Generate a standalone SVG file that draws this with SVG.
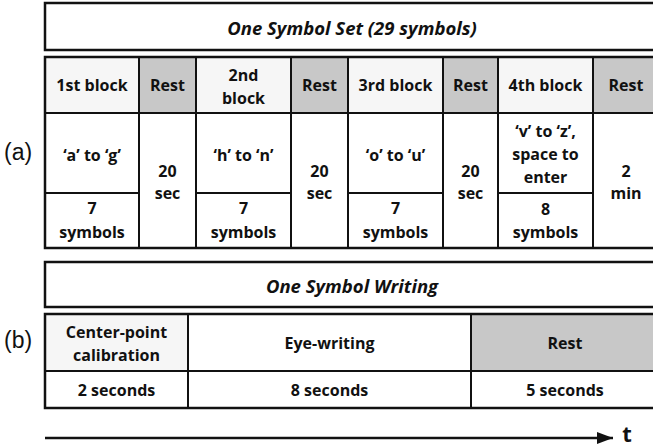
<svg xmlns="http://www.w3.org/2000/svg" width="653" height="447" viewBox="0 0 653 447">
<style>
.box{fill:#ffffff;stroke:#111;stroke-width:2.5}
.hdr{fill:#f6f6f6;stroke:#111;stroke-width:2}
.rest{fill:#c8c8c8;stroke:#111;stroke-width:2}
.cell{fill:#ffffff;stroke:#111;stroke-width:2}
.outer{fill:none;stroke:#111;stroke-width:2.5}
text{font-family:"Open Sans","Noto Sans",sans-serif;font-weight:bold;font-size:16px;fill:#111;text-anchor:middle;dominant-baseline:central}
.title{font-style:italic;font-size:18.5px}
.lab{font-family:"Liberation Sans",Arial,sans-serif;font-weight:normal;font-size:23px;text-anchor:start}
.t{font-size:22px;dominant-baseline:auto}
</style>
<defs>
<marker id="ah" markerWidth="16" markerHeight="12" refX="16" refY="6" orient="auto" markerUnits="userSpaceOnUse" viewBox="0 0 16 12">
<path d="M0,0 L16,6 L0,12 Z" fill="#111"/>
</marker>
</defs>
<g id="label-a"><text class="lab" x="4" y="152">(a)</text></g>
<g id="label-b"><text class="lab" x="4" y="340">(b)</text></g>
<g id="set-title"><rect class="box" x="45" y="3" width="614" height="47"/><text class="title" x="352" y="27">One Symbol Set (29 symbols)</text></g>
<g id="block1">
<rect class="hdr" x="45" y="57" width="94" height="56"/><text x="92" y="85">1st block</text>
<rect class="cell" x="45" y="113" width="94" height="80"/><text x="92" y="155">‘a’ to ‘g’</text>
<rect class="cell" x="45" y="193" width="94" height="55"/><text x="92" y="208">7</text><text x="92" y="232">symbols</text>
</g>
<g id="rest1">
<rect class="rest" x="139" y="57" width="57" height="56"/><text x="167.5" y="85">Rest</text>
<rect class="cell" x="139" y="113" width="57" height="135"/><text x="167.5" y="171">20</text><text x="167.5" y="193">sec</text>
</g>
<g id="block2">
<rect class="hdr" x="196" y="57" width="95" height="56"/><text x="243.5" y="75">2nd</text><text x="243.5" y="98">block</text>
<rect class="cell" x="196" y="113" width="95" height="80"/><text x="243.5" y="155">‘h’ to ‘n’</text>
<rect class="cell" x="196" y="193" width="95" height="55"/><text x="243.5" y="208">7</text><text x="243.5" y="232">symbols</text>
</g>
<g id="rest2">
<rect class="rest" x="291" y="57" width="57" height="56"/><text x="319.5" y="85">Rest</text>
<rect class="cell" x="291" y="113" width="57" height="135"/><text x="319.5" y="171">20</text><text x="319.5" y="193">sec</text>
</g>
<g id="block3">
<rect class="hdr" x="348" y="57" width="95" height="56"/><text x="395.5" y="85">3rd block</text>
<rect class="cell" x="348" y="113" width="95" height="80"/><text x="395.5" y="155">‘o’ to ‘u’</text>
<rect class="cell" x="348" y="193" width="95" height="55"/><text x="395.5" y="208">7</text><text x="395.5" y="232">symbols</text>
</g>
<g id="rest3">
<rect class="rest" x="443" y="57" width="55" height="56"/><text x="470.5" y="85">Rest</text>
<rect class="cell" x="443" y="113" width="55" height="135"/><text x="470.5" y="171">20</text><text x="470.5" y="193">sec</text>
</g>
<g id="block4">
<rect class="hdr" x="498" y="57" width="95" height="56"/><text x="545.5" y="85">4th block</text>
<rect class="cell" x="498" y="113" width="95" height="80"/><text x="545.5" y="131">‘v’ to ‘z’,</text><text x="545.5" y="154">space to</text><text x="545.5" y="177">enter</text>
<rect class="cell" x="498" y="193" width="95" height="55"/><text x="545.5" y="209">8</text><text x="545.5" y="232">symbols</text>
</g>
<g id="rest4">
<rect class="rest" x="593" y="57" width="66" height="56"/><text x="626" y="85">Rest</text>
<rect class="cell" x="593" y="113" width="66" height="135"/><text x="626" y="171">2</text><text x="626" y="193">min</text>
</g>
<rect class="outer" x="45" y="57" width="614" height="191"/>
<g id="writing-title"><rect class="box" x="45" y="262" width="614" height="45"/><text class="title" x="352" y="285">One Symbol Writing</text></g>
<g id="calibration">
<rect class="hdr" x="45" y="314" width="143" height="57"/><text x="116.5" y="332">Center-point</text><text x="116.5" y="355">calibration</text>
<rect class="cell" x="45" y="371" width="143" height="37"/><text x="116.5" y="390">2 seconds</text>
</g>
<g id="eye-writing">
<rect class="cell" x="188" y="314" width="283" height="57"/><text x="329.5" y="343">Eye-writing</text>
<rect class="cell" x="188" y="371" width="283" height="37"/><text x="329.5" y="390">8 seconds</text>
</g>
<g id="rest-b">
<rect class="rest" x="471" y="314" width="188" height="57"/><text x="565" y="343">Rest</text>
<rect class="cell" x="471" y="371" width="188" height="37"/><text x="565" y="390">5 seconds</text>
</g>
<rect class="outer" x="45" y="314" width="614" height="94"/>
<g id="connectors">
<line x1="45" y1="438" x2="613" y2="438" stroke="#111" stroke-width="2.5" marker-end="url(#ah)"/>
</g>
<g id="time-label"><text class="t" x="627" y="442">t</text></g>
</svg>
